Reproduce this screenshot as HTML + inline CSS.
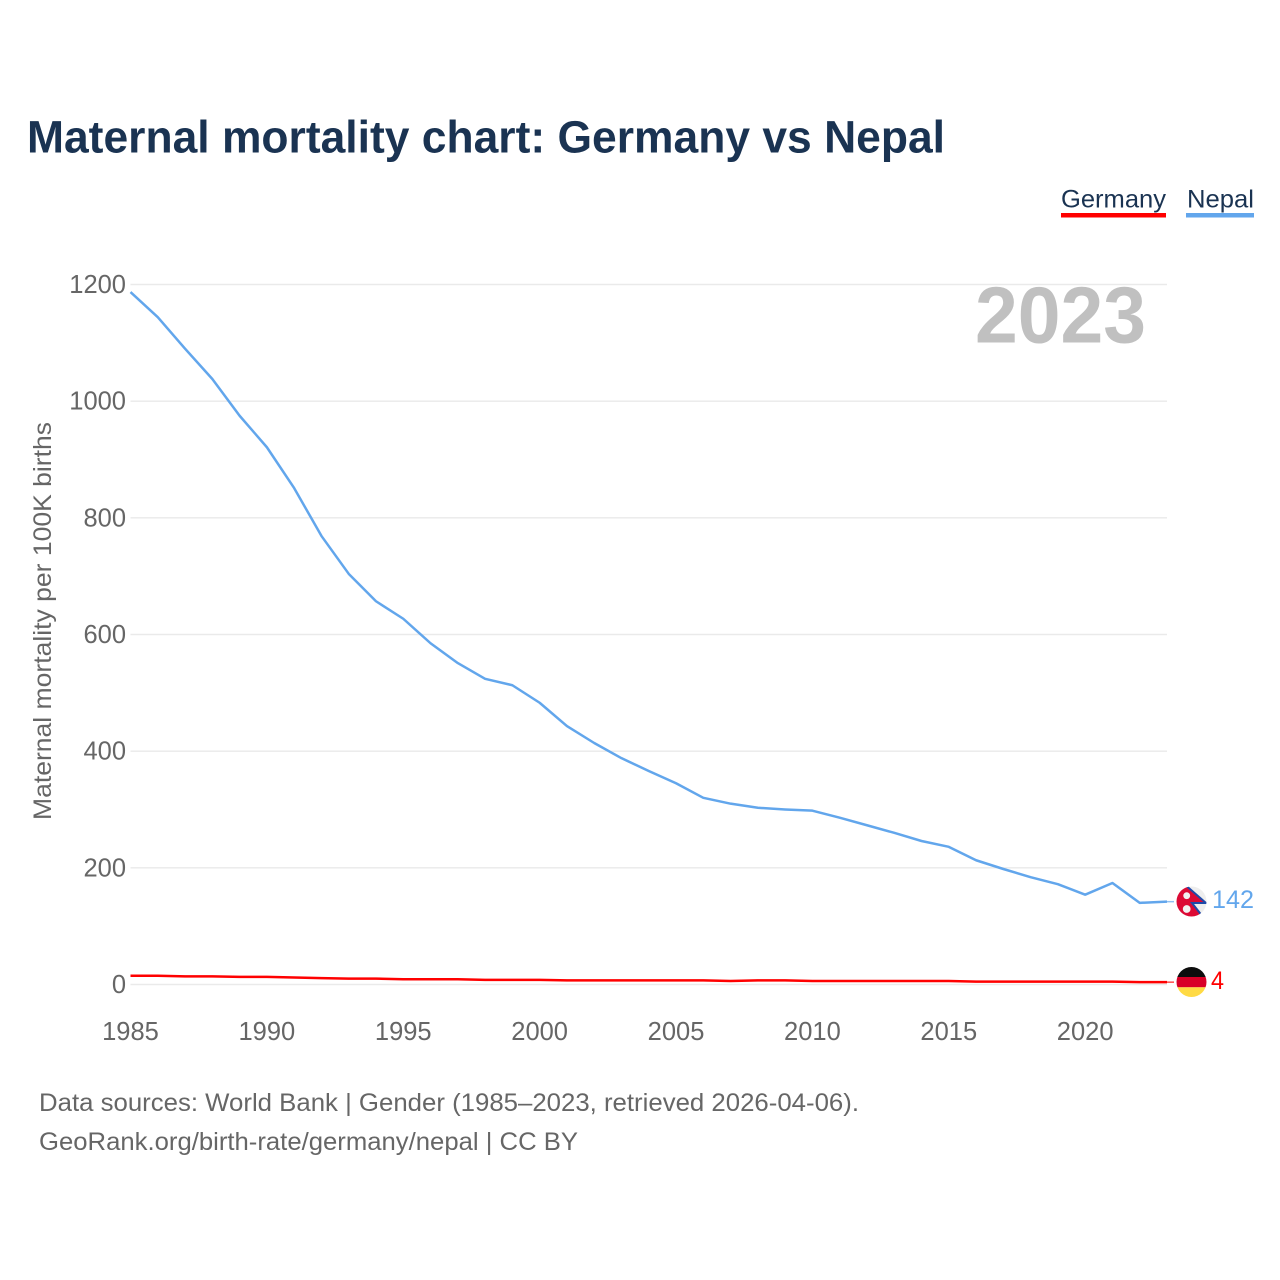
<!DOCTYPE html>
<html lang="en">
<head>
<meta charset="utf-8">
<title>Maternal mortality chart: Germany vs Nepal</title>
<style>
html,body{margin:0;padding:0;background:#fff;width:1280px;height:1280px;overflow:hidden}
svg{display:block}
text{font-family:"Liberation Sans",sans-serif}
</style>
</head>
<body>
<svg id="chart" width="1280" height="1280" viewBox="0 0 1280 1280" xmlns="http://www.w3.org/2000/svg">
  <defs>
    <clipPath id="clip-nepal"><circle cx="1191.5" cy="901.5" r="15"/></clipPath>
    <clipPath id="clip-germany"><circle cx="1191.5" cy="982" r="15"/></clipPath>
  </defs>
  <text x="27" y="152.5" font-size="45" font-weight="700" fill="#1a3352" textLength="918" lengthAdjust="spacingAndGlyphs">Maternal mortality chart: Germany vs Nepal</text>

  <g>
    <text x="1061" y="207.5" font-size="25" fill="#1a3352" textLength="105" lengthAdjust="spacingAndGlyphs">Germany</text>
    <rect x="1061" y="213" width="105" height="4.5" fill="#ff0000"/>
  </g>
  <g>
    <text x="1187" y="207.5" font-size="25" fill="#1a3352" textLength="67" lengthAdjust="spacingAndGlyphs">Nepal</text>
    <rect x="1186" y="213" width="68" height="4.5" fill="#62a6ec"/>
  </g>

  <g id="grid"></g>
  <g id="y-ticks"></g>
  <g id="x-ticks"></g>

  <text transform="translate(51,820) rotate(-90)" font-size="25" fill="#666666" textLength="398" lengthAdjust="spacingAndGlyphs">Maternal mortality per 100K births</text>

  <text x="975" y="342.5" font-size="80" font-weight="700" fill="#c0c0c0" textLength="171" lengthAdjust="spacingAndGlyphs">2023</text>

  <g id="series"></g>

  <g clip-path="url(#clip-nepal)">
    <rect x="1176" y="886" width="31" height="31" fill="#eeeeee"/>
    <polygon points="1176,886 1186.5,886 1206,903 1192,903 1203,917 1176,917" fill="#dc0a35"/>
    <polyline points="1186.5,886 1206,903 1192,903 1203,917" fill="none" stroke="#1f4aa8" stroke-width="2"/>
    <circle cx="1186.7" cy="895.7" r="3.4" fill="#f2f2f2"/>
    <circle cx="1186.7" cy="909" r="3.9" fill="#f2f2f2"/>
  </g>
  <g clip-path="url(#clip-germany)">
    <rect x="1176" y="966" width="31" height="11" fill="#0d0d0d"/>
    <rect x="1176" y="977" width="31" height="10.3" fill="#d80027"/>
    <rect x="1176" y="987.3" width="31" height="11" fill="#ffda44"/>
  </g>

  <text id="label-nepal" x="1212" y="908" font-size="25" fill="#62a6ec" textLength="42" lengthAdjust="spacingAndGlyphs"></text>
  <text id="label-germany" x="1211" y="989" font-size="25" fill="#ff0000" textLength="13" lengthAdjust="spacingAndGlyphs"></text>

  <text x="39" y="1111" font-size="25" fill="#666666" textLength="820" lengthAdjust="spacingAndGlyphs">Data sources: World Bank | Gender (1985–2023, retrieved 2026-04-06).</text>
  <text x="39" y="1150" font-size="25" fill="#666666" textLength="539" lengthAdjust="spacingAndGlyphs">GeoRank.org/birth-rate/germany/nepal | CC BY</text>
</svg>
<script>
const years = [1985,1986,1987,1988,1989,1990,1991,1992,1993,1994,1995,1996,1997,1998,1999,2000,2001,2002,2003,2004,2005,2006,2007,2008,2009,2010,2011,2012,2013,2014,2015,2016,2017,2018,2019,2020,2021,2022,2023];
const nepalValues = [1187,1144,1090,1038,975,921,851,769,704,657,627,585,551,524,513,483,443,414,388,366,345,320,310,303,300,298,286,273,260,246,236,213,198,184,172,154,174,140,142];
const germanyValues = [15,15,14,14,13,13,12,11,10,10,9,9,9,8,8,8,7,7,7,7,7,7,6,7,7,6,6,6,6,6,6,5,5,5,5,5,5,4,4];
const yTickValues = [0,200,400,600,800,1000,1200];
const xTickValues = [1985,1990,1995,2000,2005,2010,2015,2020];

const NS = 'http://www.w3.org/2000/svg';
const X0 = 130.5, X1 = 1167, Y0 = 984.5, Y1 = 284.5;
function xScale(year) { return X0 + (year - 1985) * (X1 - X0) / (2023 - 1985); }
function yScale(value) { return Y0 - value * (Y0 - Y1) / 1200; }
function make(tag, attrs) {
  const el = document.createElementNS(NS, tag);
  for (const k in attrs) el.setAttribute(k, attrs[k]);
  return el;
}

const grid = document.getElementById('grid');
const yTicks = document.getElementById('y-ticks');
yTickValues.forEach(function (v) {
  const line = make('line', {x1: X0, x2: X1, y1: yScale(v), y2: yScale(v), stroke: '#eaeaea', 'stroke-width': 1.4});
  
  
  grid.appendChild(line);
  const t = make('text', {x: 126, y: yScale(v) + 8.5, 'text-anchor': 'end', 'font-size': 25.5, fill: '#666666'});
  
  
  t.textContent = v;
  yTicks.appendChild(t);
});

const xTicks = document.getElementById('x-ticks');
xTickValues.forEach(function (y) {
  const t = make('text', {x: xScale(y), y: 1040, 'text-anchor': 'middle', 'font-size': 25.5, fill: '#666666'});
  
  
  t.textContent = y;
  xTicks.appendChild(t);
});

function pathFor(values) {
  return values.map(function (v, i) {
    return (i ? 'L' : 'M') + xScale(years[i]).toFixed(2) + ' ' + yScale(v).toFixed(2);
  }).join(' ');
}
const series = document.getElementById('series');

const nepalLine = make('path', {d: pathFor(nepalValues), fill: 'none', stroke: '#62a6ec', 'stroke-width': 2.5, 'stroke-linejoin': 'round'});


series.appendChild(nepalLine);

const germanyLine = make('path', {d: pathFor(germanyValues), fill: 'none', stroke: '#ff0000', 'stroke-width': 2.5, 'stroke-linejoin': 'round'});


series.appendChild(germanyLine);

const nepalLast = nepalValues[nepalValues.length - 1];
const germanyLast = germanyValues[germanyValues.length - 1];

const nepalConnector = make('line', {x1: X1, x2: 1174, y1: yScale(nepalLast), y2: yScale(nepalLast), stroke: '#62a6ec', 'stroke-width': 1.5, opacity: 0.7});


series.appendChild(nepalConnector);

const germanyConnector = make('line', {x1: X1, x2: 1174, y1: yScale(germanyLast), y2: yScale(germanyLast), stroke: '#ff0000', 'stroke-width': 1.5, opacity: 0.7});


series.appendChild(germanyConnector);

document.getElementById('label-nepal').textContent = nepalLast;
document.getElementById('label-germany').textContent = germanyLast;
</script>
</body>
</html>
